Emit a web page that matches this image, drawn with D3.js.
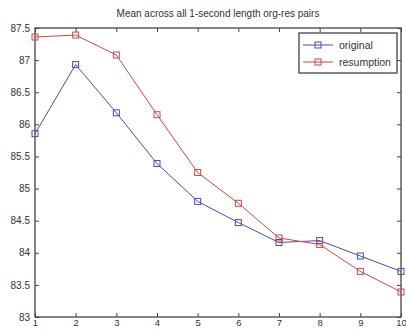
<!DOCTYPE html>
<html>
<head>
<meta charset="utf-8">
<script src="https://cdn.jsdelivr.net/npm/d3@7"></script>
<style>
  body { margin: 0; background: #fff; }
  text { font-family: "Liberation Sans", Arial, sans-serif; fill: #333; }
</style>
</head>
<body>
<svg id="chart" width="406" height="331"></svg>
<script>
const xValues = [1, 2, 3, 4, 5, 6, 7, 8, 9, 10];
const originalValues = [85.855, 86.93, 86.18, 85.39, 84.8, 84.47, 84.16, 84.19, 83.95, 83.71];
const resumptionValues = [87.36, 87.39, 87.08, 86.15, 85.25, 84.77, 84.23, 84.13, 83.71, 83.39];
const yTicks = [83, 83.5, 84, 84.5, 85, 85.5, 86, 86.5, 87, 87.5];
const seriesNames = ["original", "resumption"];

const BLUE = "#4a4ab4";
const RED = "#d24545";
const AXIS_COLOR = "#444";

const svg = d3.select("#chart");
const MARGIN = { LEFT: 35, TOP: 28, RIGHT: 5, BOTTOM: 14 };
const width = 406 - MARGIN.LEFT - MARGIN.RIGHT;
const height = 331 - MARGIN.TOP - MARGIN.BOTTOM;

const g = svg.append("g").attr("transform", `translate(${MARGIN.LEFT},${MARGIN.TOP})`);

const xScale = d3.scaleLinear().domain([1, 10]).range([0, width]);
const yScale = d3.scaleLinear().domain([83, 87.5]).range([height, 0]);

// axes with inward ticks (matlab look)
const xAxis = g.append("g").attr("transform", `translate(0,${height})`)
  .call(d3.axisBottom(xScale).tickValues(xValues).tickSize(-4).tickPadding(2).tickFormat(d3.format("d")));
const yAxis = g.append("g")
  .call(d3.axisLeft(yScale).tickValues(yTicks).tickSize(-4).tickPadding(5).tickFormat(d3.format("")));
const xTop = g.append("g")
  .call(d3.axisTop(xScale).tickValues(xValues).tickSize(-4).tickFormat(""));
const yRight = g.append("g").attr("transform", `translate(${width},0)`)
  .call(d3.axisRight(yScale).tickValues(yTicks).tickSize(-4).tickFormat(""));

[xAxis, yAxis, xTop, yRight].forEach((axis) => {
  axis.select(".domain").remove();
  axis.selectAll("line").attr("stroke", AXIS_COLOR);
  axis.selectAll("text").style("font-size", "10px").style("fill", "#333");
});
xAxis.selectAll("text").style("font-size", "9.5px");

g.append("rect")
  .attr("width", width).attr("height", height)
  .attr("fill", "none").attr("stroke", AXIS_COLOR).attr("stroke-width", 1.3);

// title
svg.append("text")
  .attr("x", MARGIN.LEFT + width / 2)
  .attr("y", 17)
  .attr("text-anchor", "middle")
  .style("font-size", "10px")
  .text("Mean across all 1-second length org-res pairs");

const line = d3.line().x((d, i) => xScale(xValues[i])).y((d) => yScale(d));

const drawSeries = (values, color) => {
  g.append("path").datum(values)
    .attr("d", line).attr("fill", "none").attr("stroke", color).attr("stroke-width", 1);
  g.selectAll(null).data(values).enter().append("rect")
    .attr("x", (d, i) => xScale(xValues[i]) - 3)
    .attr("y", (d) => yScale(d) - 3)
    .attr("width", 6).attr("height", 6)
    .attr("fill", "none").attr("stroke", color).attr("stroke-width", 1);
};

drawSeries(originalValues, BLUE);
drawSeries(resumptionValues, RED);

// legend
const legend = svg.append("g").attr("transform", "translate(299,33)");
legend.append("rect").attr("width", 98).attr("height", 40)
  .attr("fill", "#fff").attr("stroke", AXIS_COLOR).attr("stroke-width", 1.3);
[BLUE, RED].forEach((color, i) => {
  const y = 12 + i * 17;
  legend.append("line").attr("x1", 4).attr("x2", 34).attr("y1", y).attr("y2", y)
    .attr("stroke", color).attr("stroke-width", 1);
  legend.append("rect").attr("x", 16).attr("y", y - 3).attr("width", 6).attr("height", 6)
    .attr("fill", "none").attr("stroke", color);
  legend.append("text").attr("x", 40).attr("y", y + 4)
    .style("font-size", "10.5px").text(seriesNames[i]);
});
</script>
</body>
</html>
